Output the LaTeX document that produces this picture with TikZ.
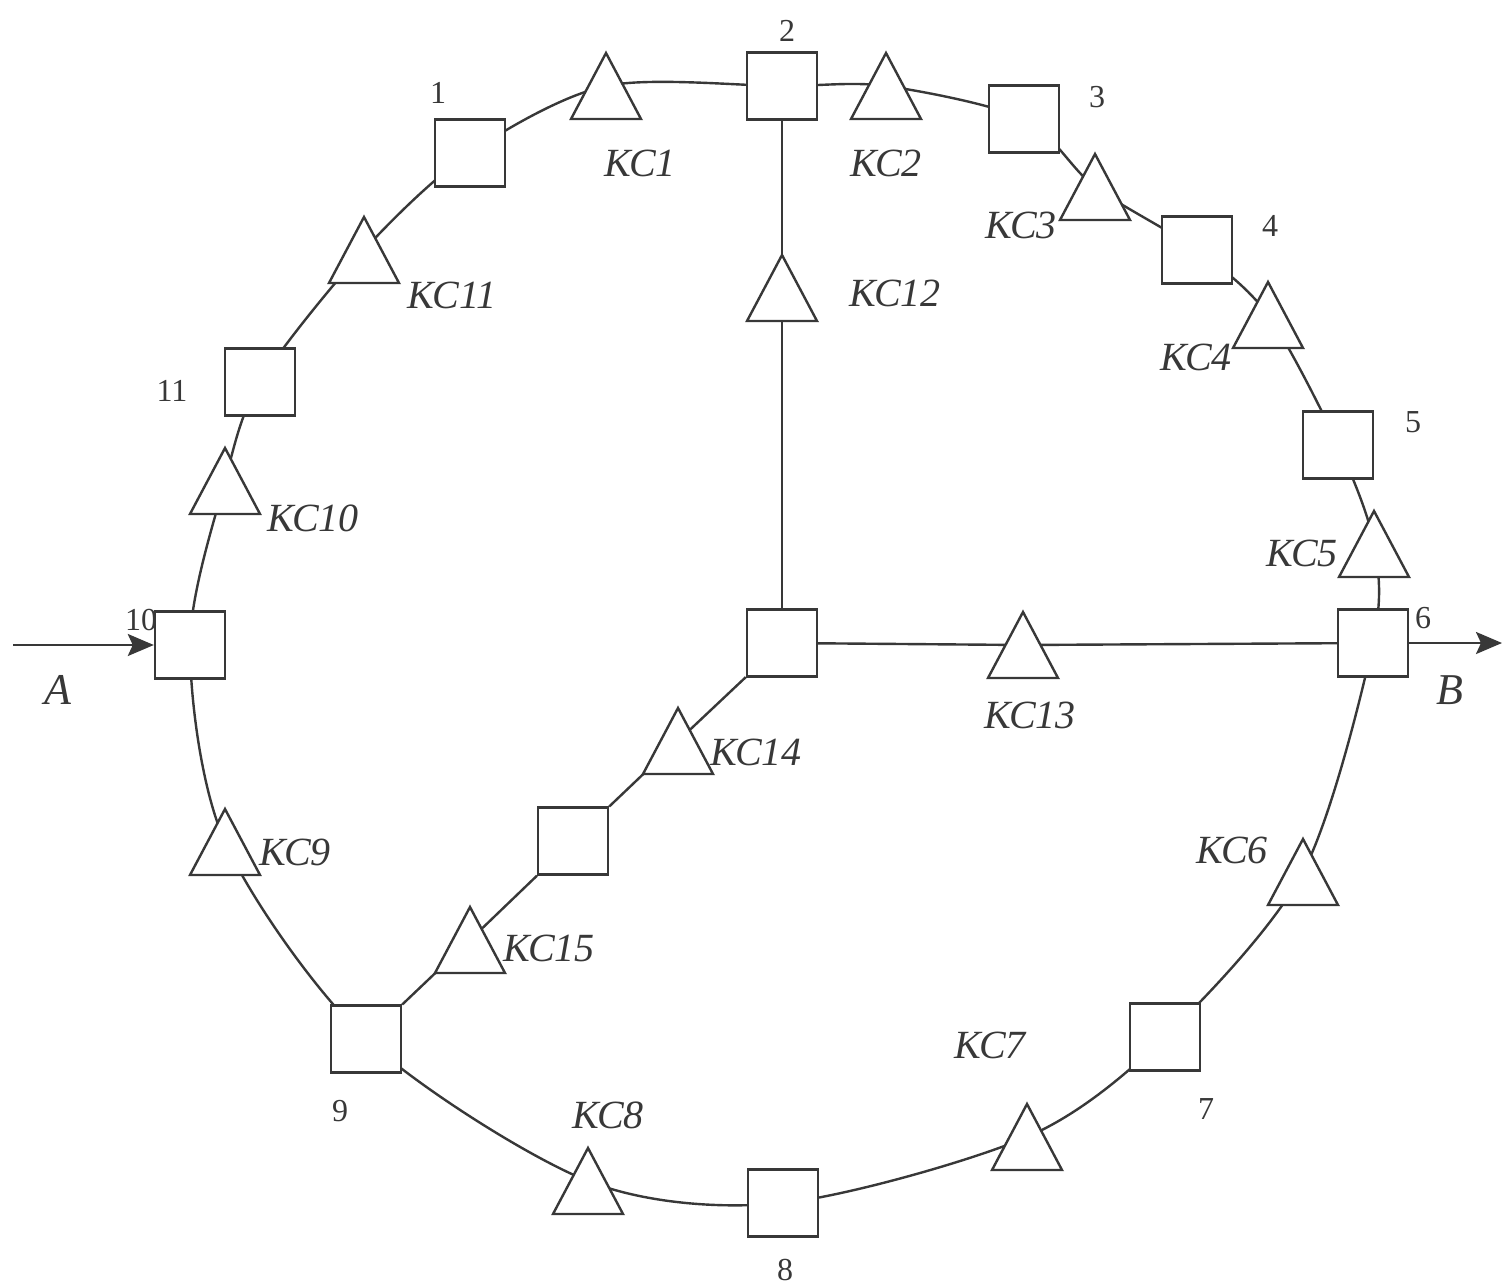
\documentclass[tikz,border=0pt]{standalone}
\usepackage{fontspec}
\setmainfont{Liberation Serif}
\usetikzlibrary{arrows.meta}
\pgfdeclarelayer{bg}
\pgfsetlayers{bg,main}
\definecolor{ink}{gray}{0.22}
\tikzset{
  line/.style={draw=ink, line width=2.4pt},
  sq/.style={draw=ink, line width=2.4pt, fill=white, minimum width=70pt, minimum height=67pt, inner sep=0pt},
  tri/.style={draw=ink, line width=2.4pt, fill=white, line join=miter},
  num/.style={text=ink, font=\fontsize{32}{36}\selectfont, inner sep=0pt},
  kcl/.style={text=ink, font=\fontsize{40}{46}\itshape\selectfont, inner sep=0pt},
  ab/.style={text=ink, font=\fontsize{44}{50}\itshape\selectfont, inner sep=0pt},
  arr/.style={draw=ink, line width=2.4pt, -{Stealth[length=26pt,width=22pt,inset=5pt]}}
}
\newcommand\kctri[3]{\coordinate (#1) at (#2,#3);}
\newcommand\drawtri[1]{\draw[tri, shift={(#1)}] (-35,33) -- (0,-33) -- (35,33) -- cycle;}
\begin{document}
\begin{tikzpicture}[x=1pt,y=-1pt]
\useasboundingbox (0,0) rectangle (1504,1287);
% squares
\node[sq] (s1) at (470,153) {};
\node[sq] (s2) at (782,86) {};
\node[sq] (s3) at (1024,119) {};
\node[sq] (s4) at (1197,250) {};
\node[sq] (s5) at (1338,445) {};
\node[sq] (s6) at (1373,643) {};
\node[sq] (s7) at (1165,1037) {};
\node[sq] (s8) at (783,1203) {};
\node[sq] (s9) at (366,1039) {};
\node[sq] (s10) at (190,645) {};
\node[sq] (s11) at (260,382) {};
\node[sq] (c) at (782,643) {};
\node[sq] (ci) at (573,841) {};
% triangle centres
\kctri{k1}{606}{86}
\kctri{k2}{886}{86}
\kctri{k3}{1095}{187}
\kctri{k4}{1268}{315}
\kctri{k5}{1374}{544}
\kctri{k6}{1303}{872}
\kctri{k7}{1027}{1137}
\kctri{k8}{588}{1181}
\kctri{k9}{225}{842}
\kctri{k10}{225}{481}
\kctri{k11}{364}{250}
\kctri{k12}{782}{288}
\kctri{k13}{1023}{645}
\kctri{k14}{678}{741}
\kctri{k15}{470}{940}
\coordinate (Ain) at (13,645);
\coordinate (Bout) at (1502,643);
% connectors
\begin{pgfonlayer}{bg}
\fill[white] (0,0) rectangle (1504,1287);
\draw[line] plot[smooth cycle, tension=0.5] coordinates {(s10) (k10) (s11) (k11) (s1) (k1) (s2) (k2) (s3) (k3) (s4) (k4) (s5) (k5) (s6) (k6) (s7) (k7) (s8) (k8) (s9) (k9)};
\draw[line] (s2) -- (k12) -- (c);
\draw[line] (c) -- (k13) -- (s6);
\draw[line] (c) -- (k14) -- (ci) -- (k15) -- (s9);
\end{pgfonlayer}
% triangles
\foreach \t in {k1,k2,k3,k4,k5,k6,k7,k8,k9,k10,k11,k12,k13,k14,k15} {\drawtri{\t}}
% in/out arrows
\draw[arr] (Ain) -- (s10.west);
\draw[arr] (s6.east) -- (Bout);
% numbers
\node[num] (n1) at (438,93) {1};
\node[num] (n2) at (787,31) {2};
\node[num] (n3) at (1097,97) {3};
\node[num] (n4) at (1270,226) {4};
\node[num] (n5) at (1413,422) {5};
\node[num] (n6) at (1423,618) {6};
\node[num] (n7) at (1206,1109) {7};
\node[num] (n8) at (785,1270) {8};
\node[num] (n9) at (340,1111) {9};
\node[num] (n10) at (141,620) {10};
\node[num] (n11) at (172,391) {11};
% station labels
\node[kcl] (l1) at (640,163) {КС1};
\node[kcl] (l2) at (886,163) {КС2};
\node[kcl] (l3) at (1021,225) {КС3};
\node[kcl] (l4) at (1196,357) {КС4};
\node[kcl] (l5) at (1302,553) {КС5};
\node[kcl] (l6) at (1232,850) {КС6};
\node[kcl] (l7) at (990,1045) {КС7};
\node[kcl] (l8) at (608,1115) {КС8};
\node[kcl] (l9) at (295,852) {КС9};
\node[kcl] (l10) at (313,518) {КС10};
\node[kcl] (l11) at (452,295) {КС11};
\node[kcl] (l12) at (895,293) {КС12};
\node[kcl] (l13) at (1030,715) {КС13};
\node[kcl] (l14) at (756,752) {КС14};
\node[kcl] (l15) at (549,948) {КС15};
\node[ab] (A) at (58,690) {A};
\node[ab] (B) at (1450,690) {B};
\end{tikzpicture}
\end{document}
